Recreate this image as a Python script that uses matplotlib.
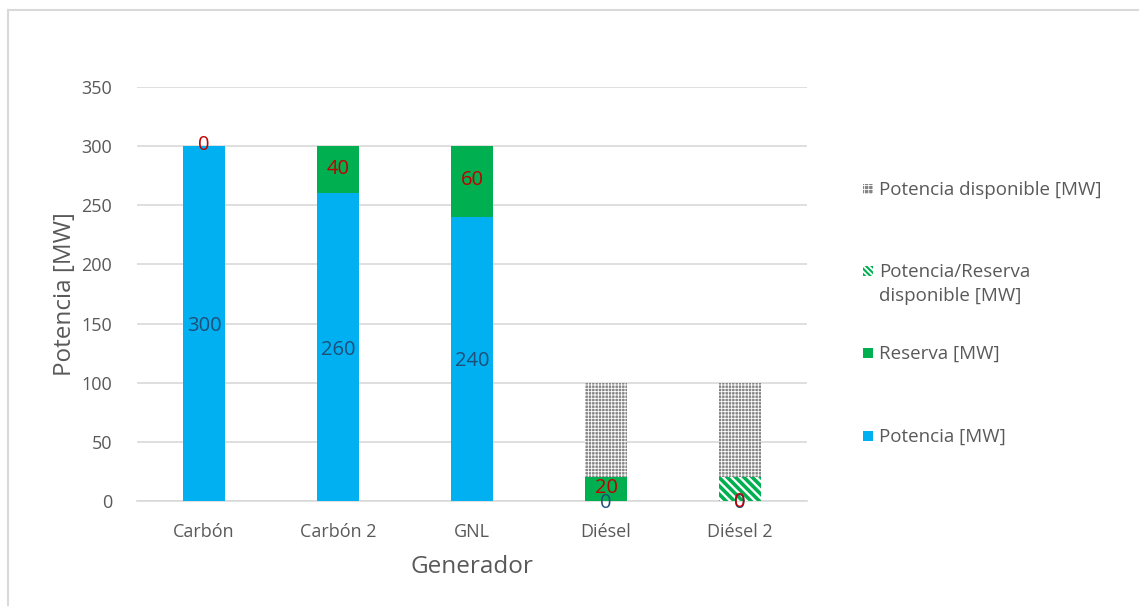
import matplotlib
matplotlib.use("Agg")
import matplotlib.pyplot as plt
from matplotlib.patches import Rectangle
from matplotlib.lines import Line2D
import numpy as np

plt.rcParams['font.family'] = ['Open Sans', 'DejaVu Sans']

generadores = ["Carbón", "Carbón 2", "GNL", "Diésel", "Diésel 2"]
potencia = [300, 260, 240, 0, 0]
reserva = [0, 40, 60, 20, 0]
pot_res_disponible = [0, 0, 0, 0, 20]
pot_disponible = [0, 0, 0, 80, 80]

c_pot = "#00B0F0"
c_res = "#00B050"
c_gray = "#858585"
c_txt = "#595959"

hatch_green = "\\\\\\\\"
hatch_gray = "+++++"

W, H = 1139, 606
fig = plt.figure(figsize=(W / 100, H / 100), dpi=100)
ax = fig.add_axes([137 / W, 105 / H, 670 / W, 414 / H])

x = np.arange(len(generadores))
w = 0.31

ax.bar(x, potencia, w, color=c_pot, linewidth=0, zorder=3)
bottom2 = np.array(potencia, dtype=float)
ax.bar(x, reserva, w, bottom=bottom2, color=c_res, linewidth=0, zorder=3)
bottom3 = bottom2 + np.array(reserva)
with plt.rc_context({'hatch.linewidth': 2.6}):
    ax.bar(x, pot_res_disponible, w, bottom=bottom3, facecolor="white",
           edgecolor=c_res, hatch=hatch_green, linewidth=0, zorder=3)
bottom4 = bottom3 + np.array(pot_res_disponible)
with plt.rc_context({'hatch.linewidth': 0.6}):
    ax.bar(x, pot_disponible, w, bottom=bottom4, facecolor=c_gray,
           edgecolor="white", hatch=hatch_gray, linewidth=0, zorder=3)

# data labels centred on each segment
for xi, v in zip(x, potencia):
    ax.text(xi, v / 2 - 2, f"{v}", ha="center", va="center", fontsize=14.5,
            color="#1F4E79", zorder=5)
for xi, b, v in zip(x, bottom2, reserva):
    yl = b + v / 2 + 1 if v > 0 or b > 0 else -1
    ax.text(xi, yl, f"{v}", ha="center", va="center", fontsize=14.5,
            color="#C00000", zorder=6)

ax.set_ylim(0, 350)
ax.set_xlim(-0.5, len(generadores) - 0.5)
ax.set_yticks(np.arange(0, 351, 50))
ax.set_xticks(x)
ax.set_xticklabels(generadores)
ax.yaxis.grid(True, color="#D9D9D9", linewidth=1.2, zorder=0)
ax.set_axisbelow(True)
for s in ["top", "right", "left"]:
    ax.spines[s].set_visible(False)
ax.spines["bottom"].set_color("#D9D9D9")
ax.spines["bottom"].set_linewidth(1.2)
ax.tick_params(axis="both", length=0, labelsize=13, colors=c_txt)
ax.tick_params(axis="y", pad=18)
ax.tick_params(axis="x", pad=16)
ax.set_ylabel("Potencia [MW]", fontsize=17.5, color=c_txt, labelpad=3)
ax.set_xlabel("Generador", fontsize=17.5, color=c_txt, labelpad=10)

# legend on the right: swatch + label, laid out top to bottom
legend_items = [
    ("Potencia disponible [MW]", dict(facecolor=c_gray, edgecolor="white", hatch="++++"), 0.6, 189),
    ("Potencia/Reserva\ndisponible [MW]", dict(facecolor="white", edgecolor=c_res, hatch="\\\\\\\\\\\\"), 1.5, 271),
    ("Reserva [MW]", dict(facecolor=c_res, edgecolor=c_res), 1.0, 353),
    ("Potencia [MW]", dict(facecolor=c_pot, edgecolor=c_pot), 1.0, 436),
]
sw = 10
for text, style, hlw, ypx in legend_items:
    with plt.rc_context({'hatch.linewidth': hlw}):
        r = Rectangle((863 / W, 1 - (ypx + sw / 2) / H), sw / W, sw / H,
                      transform=fig.transFigure, linewidth=0, **style)
    fig.add_artist(r)
    fig.text(879 / W, 1 - (ypx - 8) / H, text, ha="left", va="top",
             fontsize=13.5, color=c_txt, linespacing=1.45, multialignment="left")

# outer chart border
fig.add_artist(Line2D([8 / W, 1.0], [1 - 10 / H, 1 - 10 / H],
                      color="#D9D9D9", linewidth=1.5, transform=fig.transFigure))
fig.add_artist(Line2D([8 / W, 8 / W], [0.0, 1 - 10 / H],
                      color="#D9D9D9", linewidth=1.5, transform=fig.transFigure))

fig.savefig("out.png", dpi=100, facecolor="white")
